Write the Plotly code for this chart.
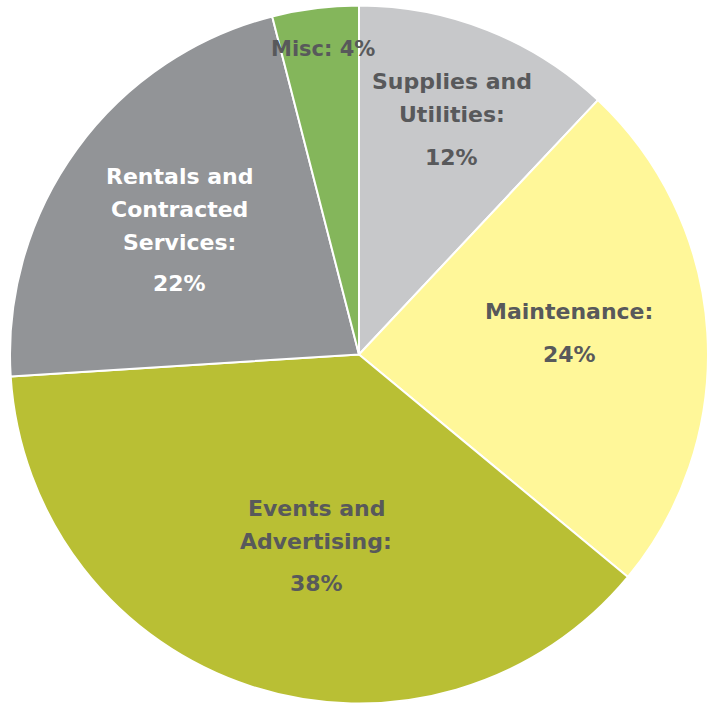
import plotly.graph_objects as go

categories = ["Supplies and Utilities", "Maintenance", "Events and Advertising",
              "Rentals and Contracted Services", "Misc"]
values = [12, 24, 38, 22, 4]
colors = ["#c7c8ca", "#fff799", "#b9bf34", "#929497", "#84b65b"]
label_lines = [["Supplies and", "Utilities:"], ["Maintenance:"], ["Events and", "Advertising:"],
               ["Rentals and", "Contracted", "Services:"], ["Misc: 4%"]]
pct_labels = ["12%", "24%", "38%", "22%", ""]
label_colors = ["#58595b", "#58595b", "#58595b", "#ffffff", "#58595b"]

W, H = 715, 704
# label layout (pixel positions of first line centre), font sizes, line spacing
label_pos = [(452, 82), (569, 312), (316, 508), (179, 176), (323, 49)]
label_sizes = [22, 22, 22, 22, 21]
line_gap = 33
pct_gap = 42

fig = go.Figure(go.Pie(
    labels=categories, values=values, sort=False, direction="clockwise", rotation=0,
    marker=dict(colors=colors, line=dict(color="white", width=2)),
    textinfo="none", hoverinfo="skip", showlegend=False,
    domain=dict(x=[10 / W, 708 / W], y=[0, 1 - 5 / H]),
))

font_family = "'DejaVu Sans', sans-serif"
for lines, pct, col, (px, py), fs in zip(label_lines, pct_labels, label_colors, label_pos, label_sizes):
    y = py
    for ln in lines:
        fig.add_annotation(x=px / W, y=1 - y / H, xref="paper", yref="paper", text="<b>" + ln + "</b>",
                           showarrow=False, font=dict(family=font_family, size=fs, color=col),
                           xanchor="center", yanchor="middle")
        last = y
        y += line_gap
    if pct:
        fig.add_annotation(x=px / W, y=1 - (last + pct_gap) / H, xref="paper", yref="paper",
                           text="<b>" + pct + "</b>", showarrow=False,
                           font=dict(family=font_family, size=fs, color=col),
                           xanchor="center", yanchor="middle")

fig.update_layout(width=W, height=H, margin=dict(l=0, r=0, t=0, b=0),
                  paper_bgcolor="white", plot_bgcolor="white")
fig.write_html("out.html", config={"displayModeBar": False},
               post_script="document.body.style.margin='0';")
